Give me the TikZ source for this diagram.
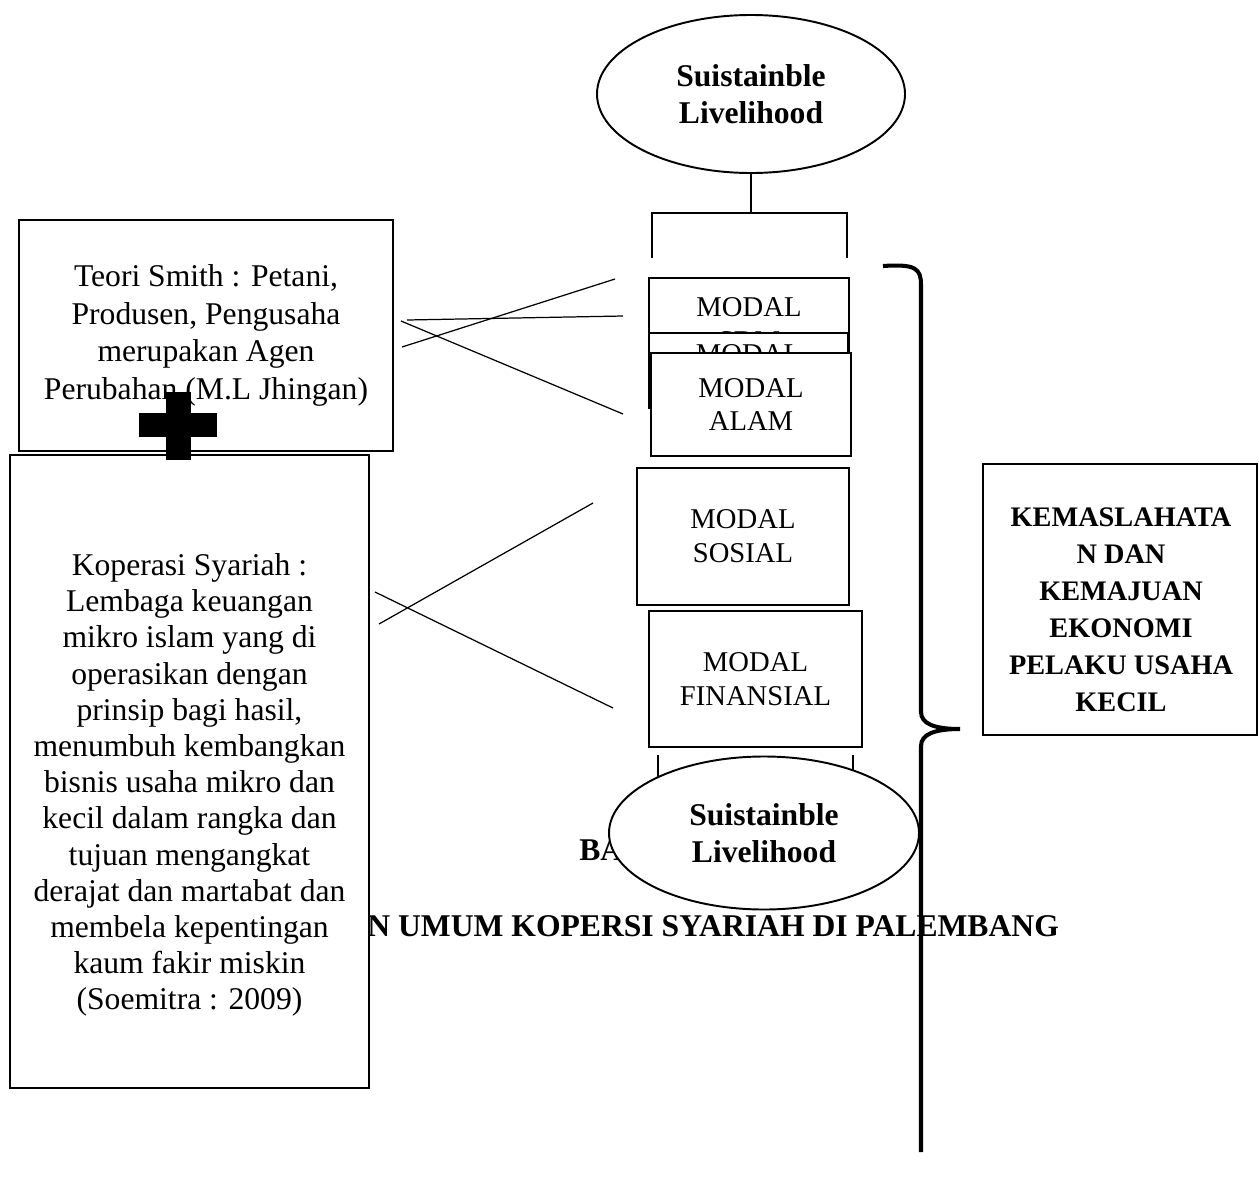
\documentclass[tikz,border=0pt]{standalone}
\usepackage{fontspec}
\setmainfont{Liberation Serif}
\usetikzlibrary{shapes.geometric}
\tikzset{box/.style={rectangle,draw,line width=1.1pt,fill=white,inner sep=0pt,align=center}}
\tikzset{modal/.style={box,font=\fontsize{16.3}{19.3}\selectfont}}
\tikzset{oval/.style={ellipse,draw,line width=1.1pt,fill=white,inner sep=0pt,align=center,font=\fontsize{18}{21.4}\selectfont\bfseries}}
\tikzset{txt/.style={draw=none,fill=none,inner sep=0pt,align=center}}
\tikzset{link/.style={line width=0.7pt}}
\tikzset{leg/.style={line width=1.6pt}}

\begin{document}
\begin{tikzpicture}[x=0.2mm,y=-0.2mm]
  \useasboundingbox (0,0) rectangle (1259,1182);
  \node[txt,font=\fontsize{18}{21.4}\selectfont\bfseries,anchor=base west] (bab) at (579,860) {BA};
  \node[txt,font=\fontsize{18}{21.4}\selectfont\bfseries,anchor=base west] (judul) at (367,936) {N UMUM KOPERSI SYARIAH DI PALEMBANG};

  \node[oval,minimum width=61.6mm,minimum height=31.6mm] (sl1) at (751,94) {Suistainble\\Livelihood};
  \coordinate (j1) at (751,213);
  \coordinate (k1) at (652,258);
  \coordinate (k2) at (847,258);
  \draw[leg] (sl1.south) -- (j1);
  \draw[leg] (k1) |- (j1) -| (k2);

  \node[modal,minimum width=40mm,minimum height=18.6mm] (sdm) at (749,324.5) {MODAL\\SDM};
  \node[modal,minimum width=39.8mm,minimum height=15mm] (fisik) at (748.5,370.5) {MODAL\\\phantom{M}};
  \node[modal,minimum width=40mm,minimum height=20.6mm] (alam) at (751,404.5) {MODAL\\ALAM};
  \node[modal,minimum width=42.4mm,minimum height=27.4mm] (sosial) at (743,536.5) {MODAL\\SOSIAL};
  \node[modal,minimum width=42.6mm,minimum height=27.2mm] (finansial) at (755.5,679) {MODAL\\FINANSIAL};

  \coordinate (k3) at (658,755);
  \coordinate (k4) at (853,755);
  \coordinate (k5) at (658,800);
  \coordinate (k6) at (853,800);
  \draw[leg] (k3) -- (k5);
  \draw[leg] (k4) -- (k6);
  \node[oval,minimum width=62mm,minimum height=30.6mm] (sl2) at (764,833) {Suistainble\\Livelihood};

  \node[box,minimum width=74.8mm,minimum height=46.2mm,font=\fontsize{18}{21.4}\selectfont] (teori) at (206,335.5) {Teori Smith : Petani,\\Produsen, Pengusaha\\merupakan Agen\\Perubahan (M.L Jhingan)};
  \node[box,minimum width=71.8mm,minimum height=126.6mm] (kop) at (189.5,771.5) {};
  \node[txt,font=\fontsize{18}{20.6}\selectfont] (koptxt) at (189.5,785) {Koperasi Syariah :\\Lembaga keuangan\\mikro islam yang di\\operasikan dengan\\prinsip bagi hasil,\\menumbuh kembangkan\\bisnis usaha mikro dan\\kecil dalam rangka dan\\tujuan mengangkat\\derajat dan martabat dan\\membela kepentingan\\kaum fakir miskin\\(Soemitra : 2009)};
  \fill (166,392) rectangle (191,460);
  \fill (139,413) rectangle (217,437);

  \coordinate (p1) at (402,347);
  \coordinate (p2) at (615,279);
  \coordinate (p3) at (407,320);
  \coordinate (p4) at (623,316);
  \coordinate (p5) at (401,321);
  \coordinate (p6) at (623,414);
  \coordinate (p7) at (379,624);
  \coordinate (p8) at (593,503);
  \coordinate (p9) at (375,592);
  \coordinate (p10) at (613,708);
  \draw[link] (p1) -- (p2);
  \draw[link] (p3) -- (p4);
  \draw[link] (p5) -- (p6);
  \draw[link] (p7) -- (p8);
  \draw[link] (p9) -- (p10);

  \node[box,minimum width=54.8mm,minimum height=54.2mm] (kemas) at (1120,599.5) {};
  \node[txt,font=\fontsize{16.1}{21}\selectfont\bfseries] (kemastxt) at (1121,610) {KEMASLAHATA\\N DAN\\KEMAJUAN\\EKONOMI\\PELAKU USAHA\\KECIL};

  \coordinate (br1) at (883,266);
  \coordinate (br2) at (921,1152);
  \draw[line width=2.3pt] (br1) .. controls (915,264) and (921,268) .. (921,285) -- (921,712)
    .. controls (921,724) and (935,729) .. (960,729)
    .. controls (935,729) and (921,734) .. (921,746) -- (br2);
\end{tikzpicture}
\end{document}
